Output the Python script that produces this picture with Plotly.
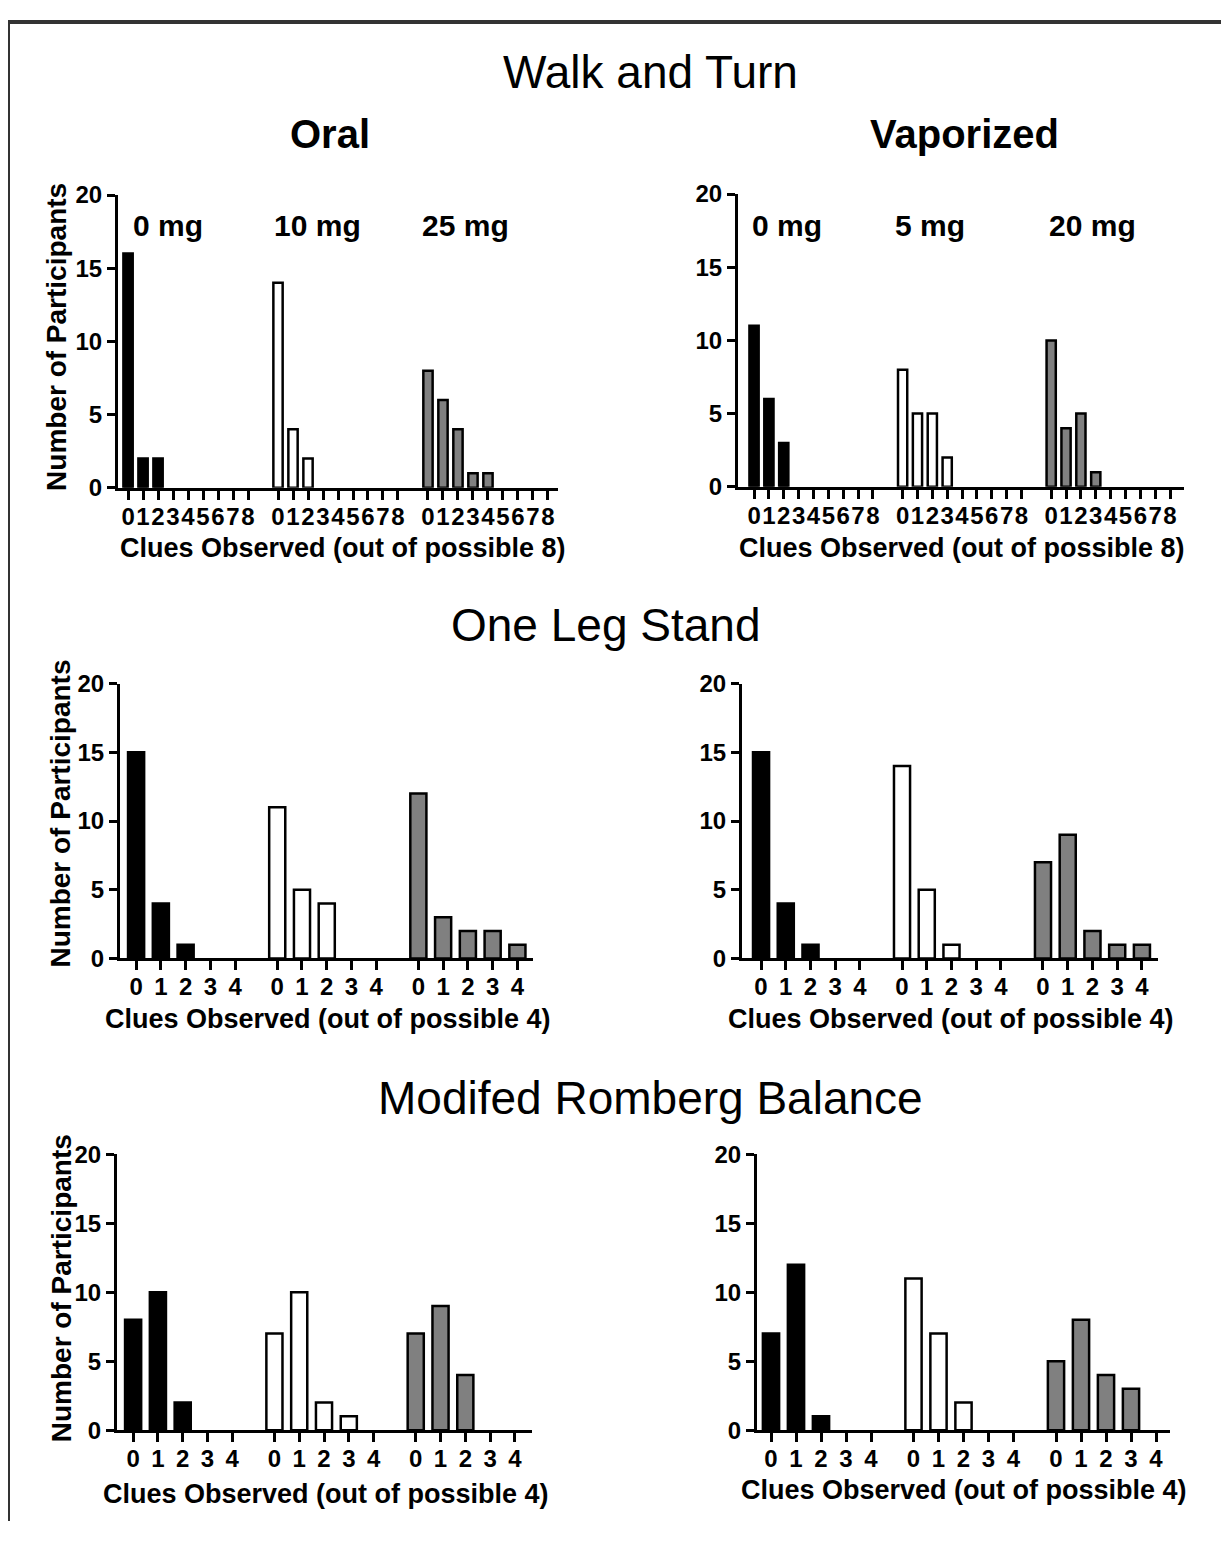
import plotly.graph_objects as go

# ---------------- data ----------------
wat_categories = [str(i) for i in range(9)]
osl_categories = [str(i) for i in range(5)]
oral_doses = ["0 mg", "10 mg", "25 mg"]
vapor_doses = ["0 mg", "5 mg", "20 mg"]

# Walk and Turn (clues 0..8)
wat_oral_0mg = [16, 2, 2, 0, 0, 0, 0, 0, 0]
wat_oral_10mg = [14, 4, 2, 0, 0, 0, 0, 0, 0]
wat_oral_25mg = [8, 6, 4, 1, 1, 0, 0, 0, 0]
wat_vapor_0mg = [11, 6, 3, 0, 0, 0, 0, 0, 0]
wat_vapor_5mg = [8, 5, 5, 2, 0, 0, 0, 0, 0]
wat_vapor_20mg = [10, 4, 5, 1, 0, 0, 0, 0, 0]

# One Leg Stand (clues 0..4)
ols_oral_0mg = [15, 4, 1, 0, 0]
ols_oral_10mg = [11, 5, 4, 0, 0]
ols_oral_25mg = [12, 3, 2, 2, 1]
ols_vapor_0mg = [15, 4, 1, 0, 0]
ols_vapor_5mg = [14, 5, 1, 0, 0]
ols_vapor_20mg = [7, 9, 2, 1, 1]

# Modified Romberg Balance (clues 0..4)
mrb_oral_0mg = [8, 10, 2, 0, 0]
mrb_oral_10mg = [7, 10, 2, 1, 0]
mrb_oral_25mg = [7, 9, 4, 0, 0]
mrb_vapor_0mg = [7, 12, 1, 0, 0]
mrb_vapor_5mg = [11, 7, 2, 0, 0]
mrb_vapor_20mg = [5, 8, 4, 3, 0]

y_ticks = [0, 5, 10, 15, 20]

# ---------------- layout helpers ----------------
W, H = 1213, 1526
OFF_X, OFF_Y = 8, 8
# observed vertical mapping of the photographed page: Y_photo = 12 + 0.983 * Y_page
V_SHIFT, V_SCALE = 12, 0.983


def sx(X):
    return (X - OFF_X) / W


def sy(Y):
    y_page = (Y - V_SHIFT) / V_SCALE
    return 1 - (y_page - OFF_Y) / H


FONT = "Liberation Sans, Arial, Helvetica, sans-serif"
FILLS = ["#000000", "#ffffff", "#808080"]

# panel: (groups, categories, group step, bar width, x-domain px, y-domain px, x range)
panels = [
    ([wat_oral_0mg, wat_oral_10mg, wat_oral_25mg], wat_categories, 10, 0.62,
     (118, 558), (193, 486), (-0.67, 28.67)),
    ([wat_vapor_0mg, wat_vapor_5mg, wat_vapor_20mg], wat_categories, 10, 0.62,
     (738, 1184), (192, 485), (-1.08, 28.94)),
    ([ols_oral_0mg, ols_oral_10mg, ols_oral_25mg], osl_categories, 5.7, 0.65,
     (120, 533), (682, 957), (-0.65, 16.03)),
    ([ols_vapor_0mg, ols_vapor_5mg, ols_vapor_20mg], osl_categories, 5.7, 0.65,
     (742, 1158), (682, 957), (-0.77, 16.05)),
    ([mrb_oral_0mg, mrb_oral_10mg, mrb_oral_25mg], osl_categories, 5.7, 0.65,
     (117, 532), (1153, 1429), (-0.65, 16.09)),
    ([mrb_vapor_0mg, mrb_vapor_5mg, mrb_vapor_20mg], osl_categories, 5.7, 0.65,
     (757, 1170), (1153, 1429), (-0.56, 15.96)),
]

fig = go.Figure()
layout = dict(
    width=W, height=H,
    margin=dict(l=0, r=0, t=0, b=0),
    paper_bgcolor="white", plot_bgcolor="white",
    showlegend=False,
    font=dict(family=FONT, color="black"),
)

for p, (groups, cats, step, bw, xd, yd, xr) in enumerate(panels):
    n = p + 1
    xa = "x" if n == 1 else f"x{n}"
    ya = "y" if n == 1 else f"y{n}"
    tickvals, ticktext = [], []
    for g, vals in enumerate(groups):
        xs = [g * step + i for i in range(len(cats))]
        tickvals += xs
        ticktext += cats
        fig.add_trace(go.Bar(
            x=xs, y=[v if v else None for v in vals], width=bw,
            xaxis=xa, yaxis=ya,
            marker=dict(color=FILLS[g], line=dict(color="black", width=2.5)),
            hoverinfo="x+y",
        ))
    layout["xaxis" if n == 1 else f"xaxis{n}"] = dict(
        domain=[sx(xd[0]), sx(xd[1])], range=list(xr), anchor=ya,
        showline=True, linewidth=3, linecolor="black",
        ticks="outside", ticklen=9, tickwidth=2.5, tickcolor="black",
        ticklabelstandoff=-4,
        tickmode="array", tickvals=tickvals, ticktext=ticktext, tickangle=0,
        tickfont=dict(family=FONT, size=24, color="black", weight="bold"),
        showgrid=False, zeroline=False, fixedrange=True,
    )
    layout["yaxis" if n == 1 else f"yaxis{n}"] = dict(
        domain=[sy(yd[1]), sy(yd[0])], range=[0, 20], anchor=xa,
        showline=True, linewidth=3, linecolor="black",
        ticks="outside", ticklen=8, tickwidth=2.5, tickcolor="black",
        tickmode="array", tickvals=y_ticks,
        tickfont=dict(family=FONT, size=24, color="black", weight="bold"),
        showgrid=False, zeroline=False, fixedrange=True,
    )

annotations = []


def note(text, X, Y, size, bold=True, angle=0, xanchor="center"):
    annotations.append(dict(
        text=text, x=sx(X), y=sy(Y), xref="paper", yref="paper",
        xanchor=xanchor, yanchor="middle", showarrow=False, textangle=angle,
        font=dict(family=FONT, size=size, color="black",
                  weight="bold" if bold else "normal"),
    ))


# section titles
note("Walk and Turn", 650, 70, 46, bold=False)
note("One Leg Stand", 605, 623, 46, bold=False)
note("Modifed Romberg Balance", 650, 1097, 46, bold=False)
# route titles
note("Oral", 330, 132, 40)
note("Vaporized", 964, 132, 40)
# dose labels
for X, t in zip([131, 272, 420], oral_doses):
    note(t, X, 224, 30, xanchor="left")
for X, t in zip([750, 893, 1047], vapor_doses):
    note(t, X, 224, 30, xanchor="left")
# x-axis titles
note("Clues Observed (out of possible 8)", 343, 546, 27)
note("Clues Observed (out of possible 8)", 962, 546, 27)
note("Clues Observed (out of possible 4)", 328, 1018, 27)
note("Clues Observed (out of possible 4)", 951, 1018, 27)
note("Clues Observed (out of possible 4)", 326, 1493, 27)
note("Clues Observed (out of possible 4)", 964, 1489, 27)
# y-axis titles
note("Number of Participants", 57, 335, 28, angle=-90)
note("Number of Participants", 61, 812, 28, angle=-90)
note("Number of Participants", 61, 1287, 28, angle=-90)

layout["annotations"] = annotations
layout["shapes"] = [
    dict(type="line", xref="paper", yref="paper", x0=0, x1=1, y0=1, y1=1,
         line=dict(color="#333333", width=4)),
    dict(type="line", xref="paper", yref="paper", x0=0, x1=0, y0=0, y1=1,
         line=dict(color="#333333", width=4)),
]

fig.update_layout(**layout)
fig.write_html("out.html", config={"displayModeBar": False})
